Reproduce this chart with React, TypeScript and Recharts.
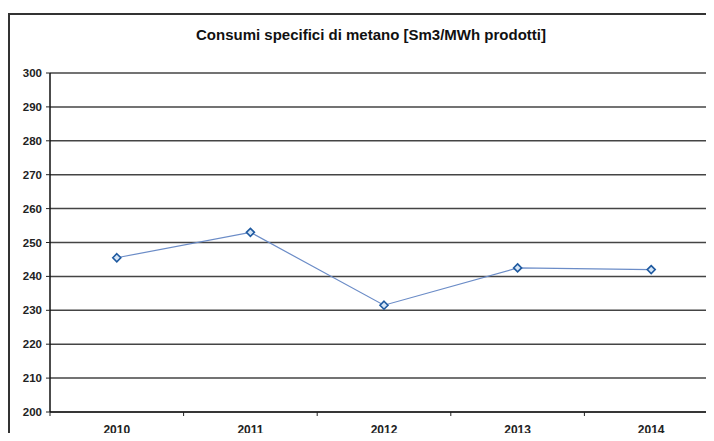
import React from 'react';
import { LineChart, Line, XAxis, YAxis, CartesianGrid } from 'recharts';

// anni e consumi specifici (Sm3/MWh)
const years = ['2010', '2011', '2012', '2013', '2014'];
const consumi = [245.5, 253, 231.5, 242.5, 242];
const yTicks = [200, 210, 220, 230, 240, 250, 260, 270, 280, 290, 300];

const data = years.map((y, i) => ({ anno: y, valore: consumi[i] }));

const FONT = '"Liberation Sans", Arial, sans-serif';
const PLOT_W = 718 - 50;

// tick in stile Excel: etichetta al centro, tacca al bordo della categoria
const YearTick = (props: any) => {
  const { x, y, payload, index } = props;
  const off = PLOT_W / years.length / 2;
  return (
    <g>
      <line x1={x - off} y1={y} x2={x - off} y2={y + 4} stroke="#222" strokeWidth={1} />
      {index === years.length - 1 && (
        <line x1={x + off} y1={y} x2={x + off} y2={y + 4} stroke="#222" strokeWidth={1} />
      )}
      <text x={x} y={y + 22} textAnchor="middle" fontFamily={FONT} fontSize={12} fontWeight="bold" fill="#222">
        {payload.value}
      </text>
    </g>
  );
};

const Diamond = (props: any) => {
  const { cx, cy, index } = props;
  if (cx == null || cy == null) return null;
  const r = 4;
  return (
    <polygon
      key={`d-${index}`}
      points={`${cx},${cy - r} ${cx + r},${cy} ${cx},${cy + r} ${cx - r},${cy}`}
      fill="#d6e6f7"
      stroke="#1f5aa0"
      strokeWidth={1.6}
    />
  );
};

export default function App() {
  return (
    <div style={{ position: 'relative', width: 714, height: 441, margin: -8, overflow: 'hidden', background: '#fff' }}>
      <div
        style={{
          position: 'absolute',
          left: 8,
          top: 13,
          width: 720,
          height: 440,
          border: '2px solid #333',
          boxSizing: 'border-box',
        }}
      />
      <div
        style={{
          position: 'absolute',
          top: 26,
          left: 0,
          width: 742,
          textAlign: 'center',
          fontFamily: FONT,
          fontWeight: 'bold',
          fontSize: 15,
          color: '#111',
        }}
      >
        Consumi specifici di metano [Sm3/MWh prodotti]
      </div>
      <LineChart
        width={714}
        height={441}
        data={data}
        margin={{ top: 73, right: -4, bottom: 4, left: 8 }}
        style={{ position: 'absolute', left: 0, top: 0 }}
      >
        <CartesianGrid vertical={false} stroke="#444" strokeWidth={1.5} />
        <XAxis
          dataKey="anno"
          scale="band"
          height={25}
          tickLine={false}
          tickSize={0}
          tickMargin={0}
          axisLine={{ stroke: '#222', strokeWidth: 1.5 }}
          tick={<YearTick />}
          interval={0}
        />
        <YAxis
          domain={[200, 300]}
          ticks={yTicks}
          width={42}
          interval={0}
          tickSize={4}
          tickMargin={4}
          tickLine={{ stroke: '#222' }}
          axisLine={{ stroke: '#111', strokeWidth: 1.5 }}
          tick={{ fontFamily: FONT, fontSize: 11.5, fontWeight: 'bold', fill: '#222' }}
        />
        <Line
          type="linear"
          dataKey="valore"
          stroke="#6b8cc7"
          strokeWidth={1.2}
          dot={<Diamond />}
          activeDot={false}
          isAnimationActive={false}
        />
      </LineChart>
    </div>
  );
}
